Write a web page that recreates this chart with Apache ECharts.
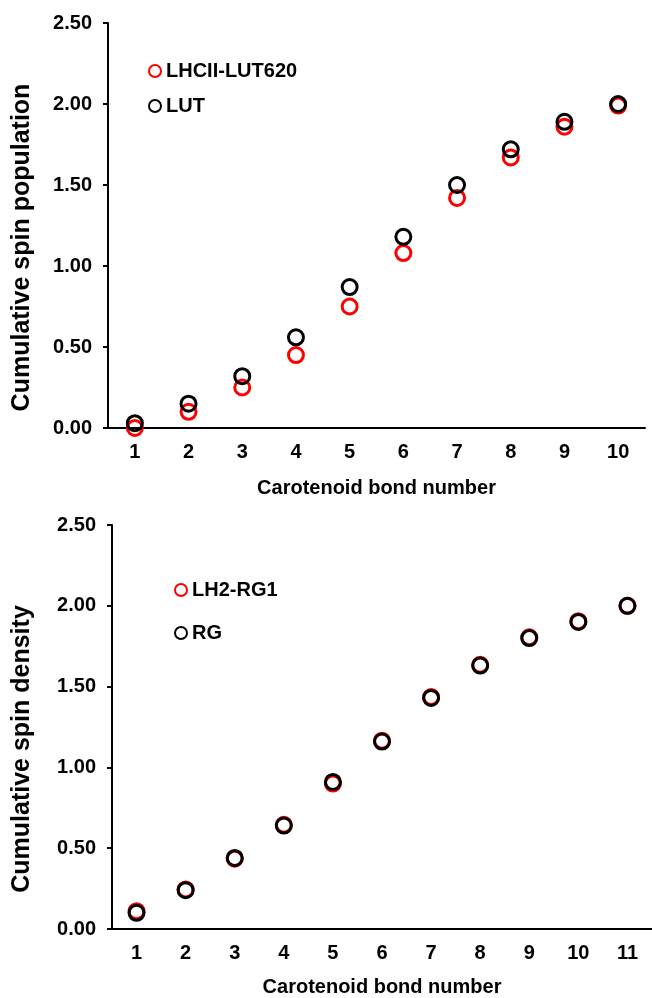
<!DOCTYPE html>
<html>
<head>
<meta charset="utf-8">
<script src="https://cdn.jsdelivr.net/npm/echarts@6/dist/echarts.min.js"></script>
<style>
html,body{margin:0;padding:0;background:#fff;}
#main{width:652px;height:998px;}
</style>
</head>
<body>
<div id="main"></div>
<script>
var bondsTop = ['1','2','3','4','5','6','7','8','9','10'];
var lhciiLut620 = [0.00, 0.10, 0.25, 0.45, 0.75, 1.08, 1.42, 1.67, 1.86, 1.99];
var lut = [0.03, 0.15, 0.32, 0.56, 0.87, 1.18, 1.50, 1.72, 1.89, 2.00];

var bondsBottom = ['1','2','3','4','5','6','7','8','9','10','11'];
var lh2Rg1 = [0.11, 0.245, 0.435, 0.645, 0.90, 1.165, 1.435, 1.635, 1.805, 1.905, 2.00];
var rg = [0.10, 0.24, 0.44, 0.64, 0.91, 1.16, 1.43, 1.63, 1.80, 1.90, 2.00];

var yTicks = [0, 0.5, 1, 1.5, 2, 2.5];

var myChart = echarts.init(document.getElementById('main'));
var font = 'Liberation Sans, Arial, sans-serif';

function xAxisCfg(idx, cats, gap) {
	return {
		type: 'category',
		gridIndex: idx,
		data: cats,
		boundaryGap: true,
		name: 'Carotenoid bond number',
		nameLocation: 'middle',
		nameGap: gap,
		nameTextStyle: { fontFamily: font, fontWeight: 'bold', fontSize: 20, color: '#000' },
		axisLine: { lineStyle: { color: '#000', width: 2 } },
		axisTick: { alignWithLabel: true, length: 5, lineStyle: { color: '#000', width: 2 } },
		axisLabel: { margin: 14, fontFamily: font, fontWeight: 'bold', fontSize: 20, color: '#000' },
		splitLine: { show: false }
	};
}

function yAxisCfg(idx, title, gap) {
	return {
		type: 'value',
		gridIndex: idx,
		min: yTicks[0],
		max: yTicks[yTicks.length - 1],
		interval: 0.5,
		name: title,
		nameLocation: 'middle',
		nameGap: gap,
		nameTextStyle: { fontFamily: font, fontWeight: 'bold', fontSize: 25, color: '#000', padding: [0, 44, 0, 0] },
		axisLine: { show: true, lineStyle: { color: '#000', width: 2 } },
		axisTick: { show: true, length: 5, lineStyle: { color: '#000', width: 2 } },
		axisLabel: {
			margin: 16, fontFamily: font, fontWeight: 'bold', fontSize: 20, color: '#000',
			formatter: function (v) { return v.toFixed(2); }
		},
		splitLine: { show: false }
	};
}

function dots(name, idx, data, color) {
	return {
		name: name,
		type: 'scatter',
		xAxisIndex: idx,
		yAxisIndex: idx,
		data: data,
		symbol: 'circle',
		symbolSize: 15,
		itemStyle: { color: 'rgba(0,0,0,0)', borderColor: color, borderWidth: 3, opacity: 1 },
		emphasis: { disabled: true }
	};
}

option = {
	animation: false,
	grid: [
		{ left: 108, right: 7, top: 23, height: 405 },
		{ left: 112, right: 0, top: 525, height: 407 }
	],
	legend: [
		{
			orient: 'vertical', left: 143, top: 56, itemGap: 15,
			itemWidth: 12, itemHeight: 12, icon: 'circle',
			textStyle: { fontFamily: font, fontWeight: 'bold', fontSize: 20, color: '#000' },
			data: ['LHCII-LUT620', 'LUT']
		},
		{
			orient: 'vertical', left: 169, top: 575, itemGap: 23,
			itemWidth: 12, itemHeight: 12, icon: 'circle',
			textStyle: { fontFamily: font, fontWeight: 'bold', fontSize: 20, color: '#000' },
			data: ['LH2-RG1', 'RG']
		}
	],
	xAxis: [xAxisCfg(0, bondsTop, 50), xAxisCfg(1, bondsBottom, 48)],
	yAxis: [yAxisCfg(0, 'Cumulative spin population', 73), yAxisCfg(1, 'Cumulative spin density', 77)],
	series: [
		dots('LHCII-LUT620', 0, lhciiLut620, '#ff0000'),
		dots('LUT', 0, lut, '#000000'),
		dots('LH2-RG1', 1, lh2Rg1, '#ff0000'),
		dots('RG', 1, rg, '#000000')
	]
};
myChart.setOption(option);
</script>
</body>
</html>
